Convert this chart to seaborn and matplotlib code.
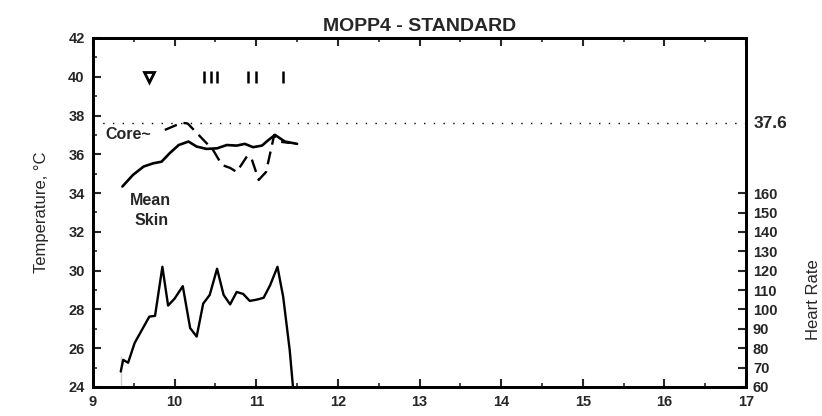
import matplotlib
matplotlib.use('Agg')
import matplotlib.pyplot as plt
import seaborn as sns
import pandas as pd

# Heart rate (right axis)
hr_time = [9.34, 9.34, 9.37, 9.43, 9.51, 9.60, 9.69, 9.76, 9.85, 9.92, 10.00, 10.10,
           10.19, 10.27, 10.35, 10.43, 10.52, 10.60, 10.68, 10.76, 10.84, 10.92, 11.00,
           11.09, 11.17, 11.26, 11.33, 11.41, 11.45]
hr_bpm = [60, 76, 74, 72.5, 82.7, 89.5, 96.3, 96.7, 122, 102, 105.6, 112,
          90.4, 86, 103, 107.5, 121, 107.5, 102.6, 109, 108, 104.4, 105,
          106, 112.5, 122, 106.5, 79, 60]

# Mean skin temperature
skin_time = [9.36, 9.49, 9.62, 9.74, 9.84, 9.94, 10.05, 10.17, 10.27, 10.39, 10.52,
             10.64, 10.76, 10.86, 10.96, 11.07, 11.15, 11.23, 11.29, 11.35, 11.50]
skin_temp = [34.34, 34.94, 35.37, 35.54, 35.62, 36.06, 36.48, 36.66, 36.40, 36.28, 36.31,
             36.48, 36.45, 36.54, 36.37, 36.45, 36.74, 37.00, 36.83, 36.66, 36.54]

# Core temperature
core_time = [9.88, 10.09, 10.16, 10.47, 10.58, 10.68, 10.76, 10.89, 10.94, 11.03,
             11.12, 11.22, 11.29, 11.41]
core_temp = [37.26, 37.63, 37.59, 36.23, 35.45, 35.30, 35.09, 35.92, 35.81, 34.68,
             35.09, 37.00, 36.65, 36.59]

# event markers
drink_time = [9.68]
event_times = [10.36, 10.45, 10.52, 10.90, 11.00, 11.33]
event_level = 40
limit_temp = 37.6

hr_ticks = [60, 70, 80, 90, 100, 110, 120, 130, 140, 150, 160]

sns.set_style('ticks')
plt.rcParams['font.family'] = ['Liberation Sans', 'DejaVu Sans']
plt.rcParams['xtick.direction'] = 'in'
plt.rcParams['ytick.direction'] = 'in'

fig = plt.figure(figsize=(8.22, 4.16), dpi=100)
ax = fig.add_axes([93 / 822, 1 - 387 / 416, (746 - 93) / 822, (387 - 38) / 416])
ax2 = ax.twinx()

skin = pd.DataFrame({'time': skin_time, 'temp': skin_temp})
core = pd.DataFrame({'time': core_time, 'temp': core_temp})
hr = pd.DataFrame({'time': hr_time, 'bpm': hr_bpm})

sns.lineplot(data=skin, x='time', y='temp', ax=ax, color='black', lw=1.9, sort=False)
sns.lineplot(data=core, x='time', y='temp', ax=ax, color='black', lw=1.7, sort=False,
             linestyle=(0, (5.5, 3)))
sns.lineplot(data=hr, x='time', y='bpm', ax=ax2, color='black', lw=1.7, sort=False)

ax.axhline(limit_temp, color='black', lw=1.0, linestyle=(0, (1, 6)))
ax.plot(drink_time, [event_level] * len(drink_time), marker='v', ls='none',
        mfc='white', mec='black', mew=2.0, ms=7.5)
ax.plot(event_times, [event_level] * len(event_times), marker='|', ls='none',
        color='black', mew=1.8, ms=8)

ax.set_xlim(9, 17)
ax.set_ylim(24, 42)
ax2.set_ylim(60, 240)
ax.set_xticks(range(9, 18))
ax.set_xticks([9.5 + i for i in range(8)], minor=True)
ax.set_yticks(range(24, 43, 2))
ax.set_yticks(range(25, 42, 2), minor=True)
ax2.set_yticks(hr_ticks)

for a in (ax, ax2):
    for s in a.spines.values():
        s.set_visible(True)
        s.set_linewidth(2.0)
        s.set_color('black')

ax.tick_params(axis='both', which='major', length=6, width=1.5, labelsize=10.5,
               top=True, right=False, pad=6)
ax.tick_params(axis='both', which='minor', length=3, width=1.2, top=True, right=False)
ax2.tick_params(axis='y', which='major', length=6, width=1.5, labelsize=10.5, pad=5)
for lab in ax.get_xticklabels() + ax.get_yticklabels() + ax2.get_yticklabels():
    lab.set_fontweight('bold')

ax.set_xlabel('')
ax.set_ylabel('Temperature, \u00b0C', fontsize=12, labelpad=14)
ax2.set_ylabel('Heart Rate', fontsize=12)
ax2.yaxis.set_label_coords(1.092, 0.25)
ax.set_title('MOPP4 - STANDARD', fontsize=14, fontweight='bold', pad=5)

ax.text(1.012, limit_temp, '37.6', transform=ax.get_yaxis_transform(),
        fontsize=12.5, fontweight='bold', va='center', ha='left', clip_on=False)
ax.text(9.15, 37.0, 'Core~', fontsize=11.5, fontweight='bold', va='center', ha='left')
ax.text(9.45, 33.6, 'Mean', fontsize=11.5, fontweight='bold', va='center', ha='left')
ax.text(9.51, 32.6, 'Skin', fontsize=11.5, fontweight='bold', va='center', ha='left')

fig.savefig('out.png', dpi=100)
